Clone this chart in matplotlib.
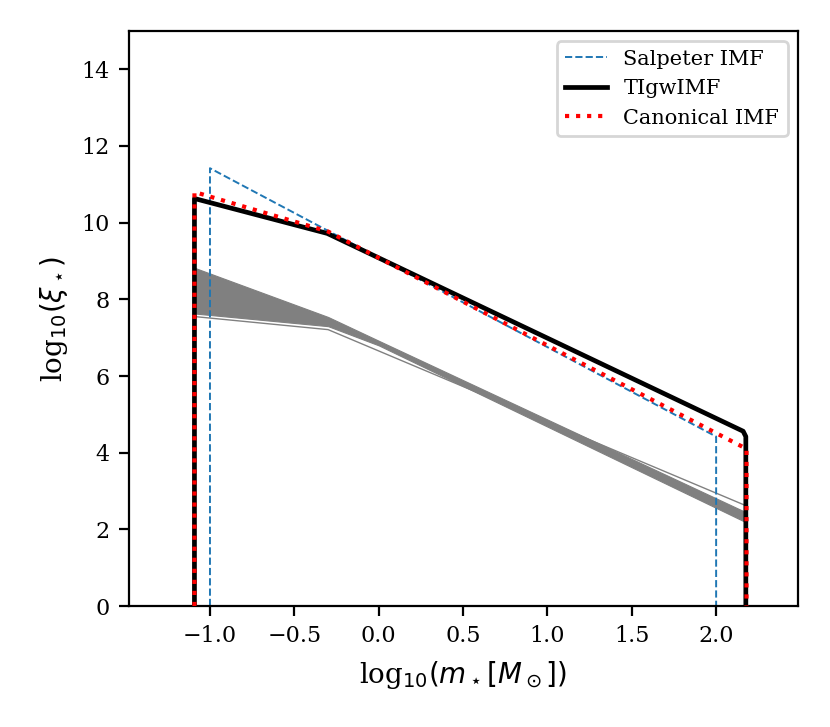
import numpy as np
import matplotlib
matplotlib.use("Agg")
import matplotlib.pyplot as plt

plt.rcParams["font.family"] = "DejaVu Serif"
plt.rcParams["mathtext.fontset"] = "dejavusans"

# Salpeter IMF (log10 m, log10 xi)
salpeter_x = [-1.0, -1.0, 2.0, 2.0]
salpeter_y = [0.0, 11.42, 4.42, 0.0]

# TIgwIMF
tigw_x = [-1.092, -1.092, -0.305, 2.160, 2.176, 2.176]
tigw_y = [0.0, 10.63, 9.72, 4.56, 4.42, 0.0]

# canonical IMF
canon_x = [-1.092, -1.092, -0.301, 2.180, 2.180]
canon_y = [0.0, 10.80, 9.77, 4.10, 0.0]

# envelope of the grey family of IMFs
band_x = [-1.09, -0.30, 0.0, 2.17]
band_upper = [8.82, 7.54, 6.92, 2.46]
band_lower = [7.63, 7.30, 6.80, 2.20]

# single outlying grey IMF
single_x = [-1.09, -0.30, 2.17]
single_y = [7.55, 7.21, 2.63]

fig = plt.figure(figsize=(4.15, 3.635), dpi=200)
ax = fig.add_axes([0.1554, 0.1664, 0.806, 0.791])

ax.fill_between(band_x, band_lower, band_upper, color="gray", linewidth=0.4, zorder=1)
ax.plot(single_x, single_y, color="gray", linewidth=0.5, zorder=1)

ax.plot(salpeter_x, salpeter_y, "--", color="#1f77b4", linewidth=0.7, label="Salpeter IMF", zorder=2)
ax.plot(tigw_x, tigw_y, "-", color="black", linewidth=1.7, label="TIgwIMF", zorder=3)
ax.plot(canon_x, canon_y, ":", color="red", linewidth=1.5, label="Canonical IMF", zorder=4)

ax.set_xlim(-1.48, 2.485)
ax.set_ylim(0, 15)
ax.set_xticks([-1.0, -0.5, 0.0, 0.5, 1.0, 1.5, 2.0])
ax.set_yticks([0, 2, 4, 6, 8, 10, 12, 14])
ax.tick_params(labelsize=8)

ax.set_xlabel(r"log$_{10}(m_\star[M_\odot])$", fontsize=10)
ax.set_ylabel(r"log$_{10}(\xi_\star)$", fontsize=10)

ax.legend(loc="upper right", fontsize=7.5)

plt.savefig("out.png", dpi=200)
plt.close()
